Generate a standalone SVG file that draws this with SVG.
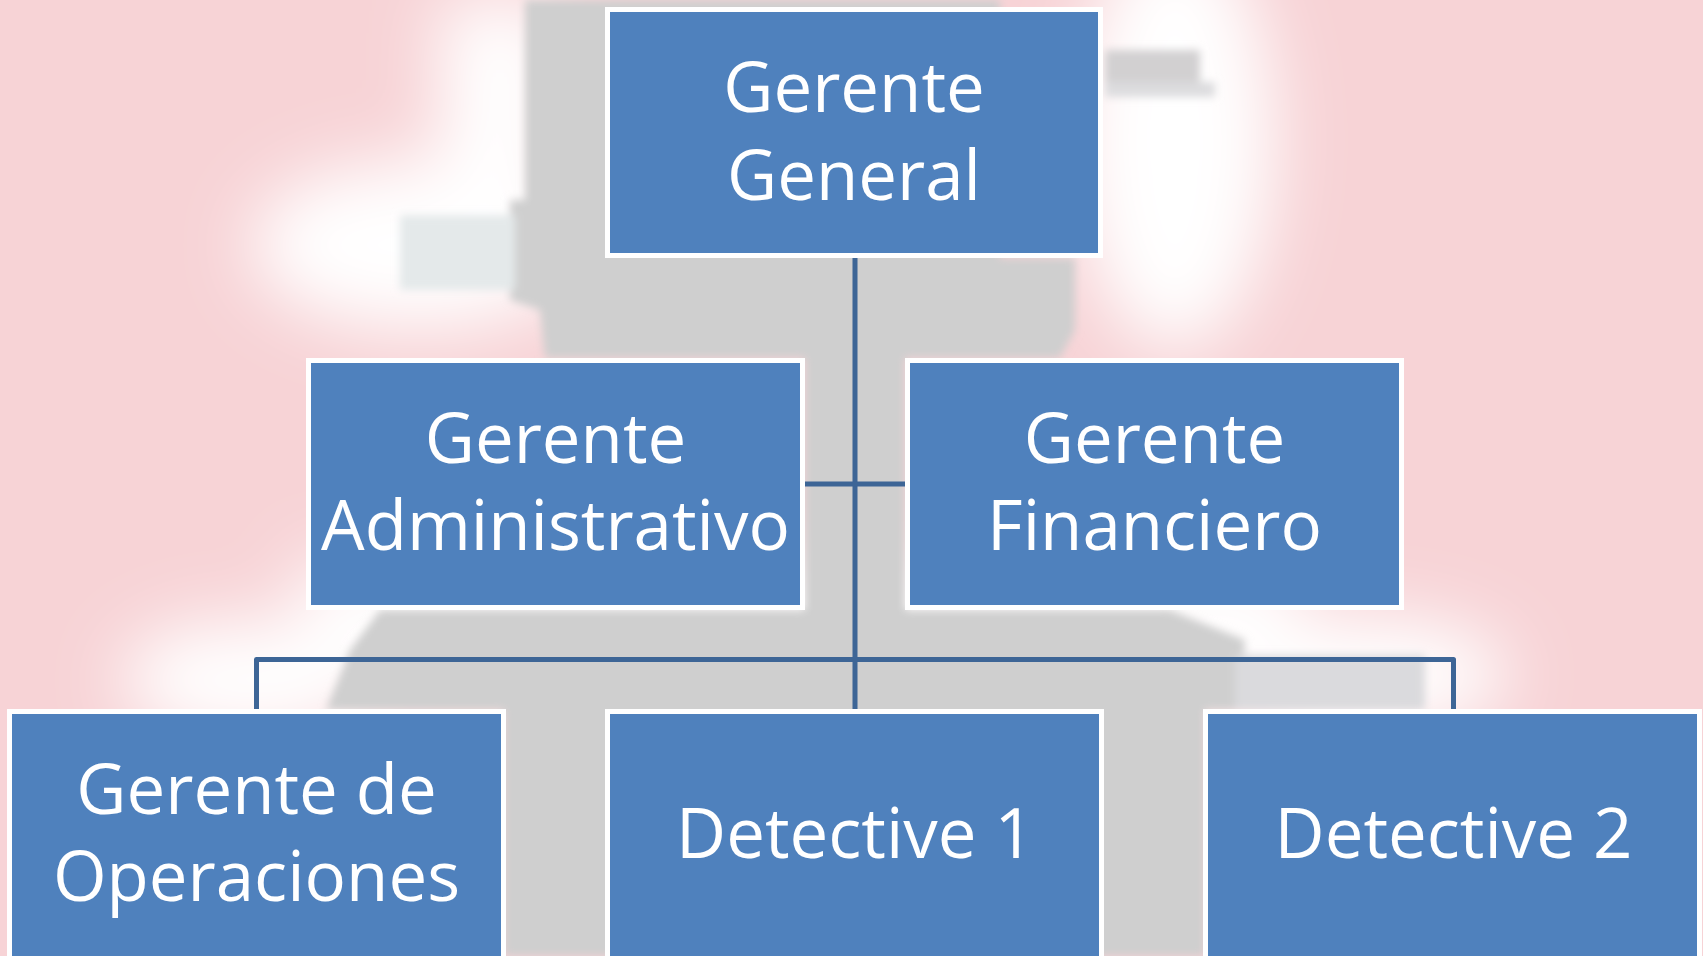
<svg xmlns="http://www.w3.org/2000/svg" width="1703" height="956" viewBox="0 0 1703 956">
<defs>
<filter id="blur" x="-50%" y="-50%" width="200%" height="200%"><feGaussianBlur stdDeviation="35"/></filter>
<filter id="soft" x="-10%" y="-10%" width="120%" height="120%"><feGaussianBlur stdDeviation="4"/></filter>
<style>
.box{fill:#4f81bd;stroke:#ffffff;stroke-width:5}
.lbl{font-family:"Open Sans","Noto Sans","Liberation Sans",sans-serif;font-size:69px;fill:#ffffff;text-anchor:middle}
.conn{fill:none;stroke:#3d6596;stroke-width:5;stroke-linejoin:round}
</style>
</defs>
<g id="background">
<rect x="0" y="0" width="1703" height="956" fill="#f7d3d6"/>
<g filter="url(#blur)" fill="#ffffff">
<ellipse cx="420" cy="245" rx="170" ry="85"/>
<rect x="440" y="0" width="120" height="220"/>
<ellipse cx="1175" cy="140" rx="100" ry="210"/>
<ellipse cx="250" cy="680" rx="130" ry="60"/>
<ellipse cx="1360" cy="675" rx="150" ry="60"/>
<rect x="300" y="560" width="1000" height="120"/>
</g>
<g filter="url(#soft)">
<path fill="#cfcfcf" d="M525,0 L1000,0 L1000,258 L1075,258 L1075,330 L1060,358 L905,358 L905,610 L1170,610 L1245,640 L1240,710 L1205,710 L1205,956 L504,956 L504,710 L326,710 L350,650 L380,610 L805,610 L805,358 L545,358 L540,310 L510,300 L510,200 L525,200 Z"/>
<rect x="400" y="215" width="115" height="75" fill="#e4e9ea"/>
<rect x="1105" y="50" width="95" height="32" fill="#d2d0d1"/>
<rect x="1105" y="82" width="110" height="15" fill="#dcdcde"/>
<rect x="1235" y="655" width="190" height="55" fill="#dadadd"/>
</g>
</g>
<g id="connectors">
<path class="conn" d="M855,258 L855,711"/>
<path class="conn" d="M805,484 L905,484"/>
<path class="conn" d="M256.5,710 L256.5,659.5 L1453.5,659.5 L1453.5,710"/>
</g>
<g id="node-gerente-general">
<rect class="box" x="607.5" y="9.5" width="493" height="246"/>
<text class="lbl" x="854" y="111.5">Gerente</text>
<text class="lbl" x="854" y="199.5">General</text>
</g>
<g id="node-gerente-administrativo">
<rect class="box" x="308.5" y="360.5" width="494" height="247"/>
<text class="lbl" x="555.5" y="462.5">Gerente</text>
<text class="lbl" x="555.5" y="550">Administrativo</text>
</g>
<g id="node-gerente-financiero">
<rect class="box" x="907.5" y="360.5" width="494" height="247"/>
<text class="lbl" x="1154.5" y="462.5">Gerente</text>
<text class="lbl" x="1154.5" y="550">Financiero</text>
</g>
<g id="node-gerente-operaciones">
<rect class="box" x="9.5" y="711.5" width="494" height="260"/>
<text class="lbl" x="256.5" y="814">Gerente de</text>
<text class="lbl" x="256.5" y="900.5">Operaciones</text>
</g>
<g id="node-detective-1">
<rect class="box" x="607.5" y="711.5" width="494" height="260"/>
<text class="lbl" x="855" y="858">Detective 1</text>
</g>
<g id="node-detective-2">
<rect class="box" x="1205.5" y="711.5" width="494" height="260"/>
<text class="lbl" x="1453.5" y="858">Detective 2</text>
</g>
</svg>
